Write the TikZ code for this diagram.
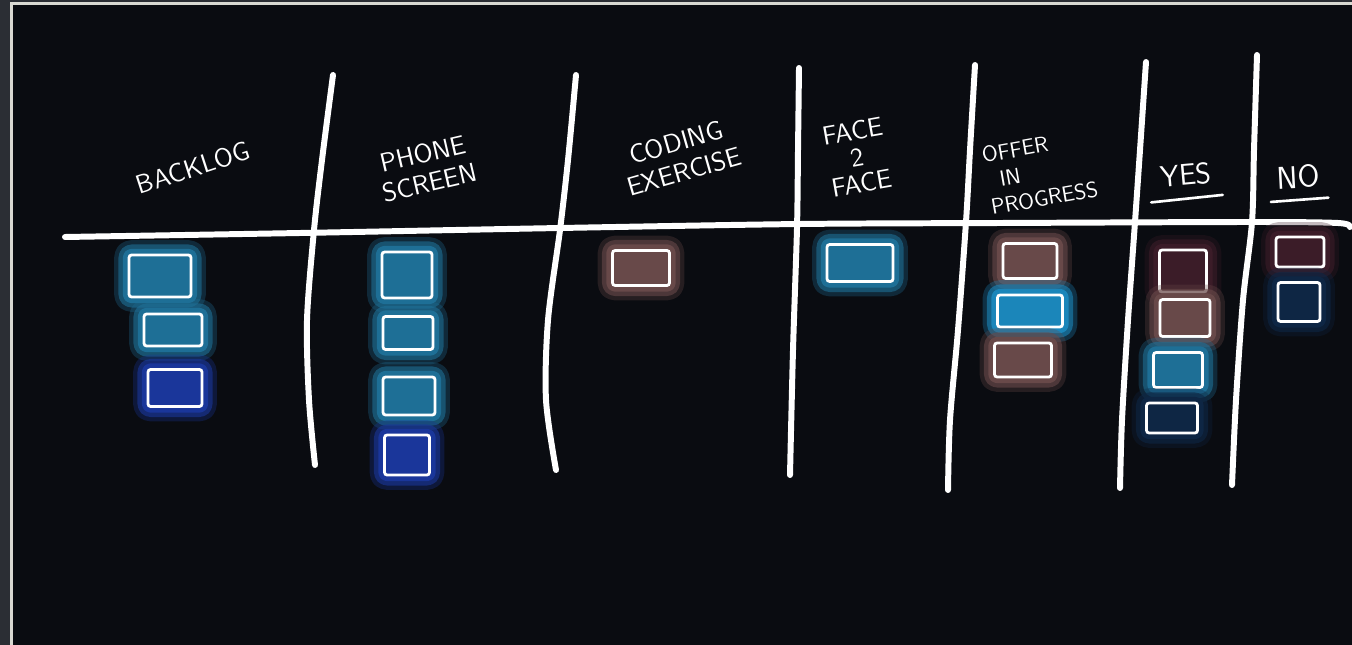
\documentclass[tikz,border=0pt]{standalone}
\usetikzlibrary{calc,positioning}
\definecolor{frame}{HTML}{2B2E34}
\definecolor{board}{HTML}{0A0C11}
\definecolor{edge}{HTML}{D9D9D2}
\definecolor{tealcard}{HTML}{1E6F96}
\definecolor{brightcard}{HTML}{1B86BA}
\definecolor{deepcard}{HTML}{1A369A}
\definecolor{rosecard}{HTML}{684949}
\definecolor{plumcard}{HTML}{3B1C28}
\definecolor{navycard}{HTML}{0E2644}
\tikzset{
   chalk/.style={draw=white, line width=3.4pt, line cap=round, line join=round},
   heading/.style={text=white, font=\sffamily\fontsize{15}{15}\selectfont, align=center, inner sep=0pt},
   card/.style={rectangle, draw=white, line width=1.6pt, rounded corners=1.5pt, inner sep=0pt,
      preaction={draw=#1, draw opacity=0.3, fill=#1, line width=17pt, line join=round},
      preaction={draw=#1, draw opacity=0.6, line width=12pt, line join=round},
      preaction={draw=#1, line width=7pt, line join=round}},
   card/.default=tealcard
}
\begin{document}
\begin{tikzpicture}[x=0.02cm, y=-0.02cm]

  \useasboundingbox (0,0) rectangle (1352,645);
  \fill[frame] (0,0) rectangle (1352,645);
  \fill[edge]  (10,2) rectangle (1352,645);
  \fill[board] (13,5) rectangle (1352,645);

  %% Board lines
  \draw[chalk] plot[smooth] coordinates {(65,237) (300,233) (560,228) (800,224) (1000,223) (1250,222) (1338,223) (1350,227)};
  \draw[chalk] plot[smooth] coordinates {(333,75) (322,160) (314,230) (307,320) (309,400) (315,465)};
  \draw[chalk] plot[smooth] coordinates {(576,75) (568,160) (560,230) (548,320) (546,400) (556,470)};
  \draw[chalk] plot[smooth] coordinates {(799,68) (798,150) (797,228) (793,350) (790,475)};
  \draw[chalk] plot[smooth] coordinates {(975,65) (970,150) (966,222) (958,330) (950,420) (948,490)};
  \draw[chalk] plot[smooth] coordinates {(1146,62) (1140,150) (1135,222) (1128,320) (1122,420) (1120,488)};
  \draw[chalk] plot[smooth] coordinates {(1257,55) (1254,150) (1252,222) (1243,300) (1236,400) (1232,485)};

  %% Column headings
  \node[heading, rotate=18] at (193,168)  (backlog) {BACKLOG};
  \node[heading, rotate=13, font=\sffamily\fontsize{15}{17}\selectfont] at (426,168) (phone) {PHONE\\SCREEN};
  \node[heading, rotate=16, font=\sffamily\fontsize{15}{17}\selectfont] at (680,157) (coding) {CODING\\EXERCISE};
  \node[heading, rotate=10, font=\sffamily\fontsize{15}{15}\selectfont] at (857,157) (face) {FACE\\2\\FACE};
  \node[heading, rotate=10, align=left, font=\sffamily\fontsize{12.5}{15}\selectfont] at (1040,172) (offer) {OFFER\\\hspace{0.6em}IN\\PROGRESS};
  \node[heading, rotate=5, font=\sffamily\fontsize{17}{17}\selectfont]  at (1186,175) (yes) {YES};
  \node[heading, rotate=3, font=\sffamily\fontsize{18}{18}\selectfont]  at (1298,177) (no)  {NO};

  \draw[chalk, line width=1.5pt] ($(yes.south west)+(-10,14)$) -- ($(yes.south east)+(10,11)$);
  \draw[chalk, line width=1.5pt] ($(no.south west)+(-6,12)$)   -- ($(no.south east)+(8,10)$);

  %% Cards
  \node[card,            minimum width=1.24cm, minimum height=0.84cm] at (160,276)  (backlog a) {};
  \node[card,            minimum width=1.16cm, minimum height=0.64cm] at (173,330)  (backlog b) {};
  \node[card=deepcard,   minimum width=1.08cm, minimum height=0.74cm] at (175,388)  (backlog c) {};

  \node[card,            minimum width=1.00cm, minimum height=0.92cm] at (407,275)  (phone a) {};
  \node[card,            minimum width=1.00cm, minimum height=0.66cm] at (408,333)  (phone b) {};
  \node[card,            minimum width=1.04cm, minimum height=0.76cm] at (409,396)  (phone c) {};
  \node[card=deepcard,   minimum width=0.90cm, minimum height=0.80cm] at (407,455)  (phone d) {};

  \node[card=rosecard,   minimum width=1.14cm, minimum height=0.70cm] at (641,268)  (coding a) {};

  \node[card,            minimum width=1.32cm, minimum height=0.74cm] at (860,263)  (face a) {};

  \node[card=rosecard,   minimum width=1.08cm, minimum height=0.70cm] at (1030,261) (offer a) {};
  \node[card=brightcard, minimum width=1.30cm, minimum height=0.64cm] at (1030,311) (offer b) {};
  \node[card=rosecard,   minimum width=1.14cm, minimum height=0.68cm] at (1023,360) (offer c) {};

  \node[card=plumcard,   minimum width=0.94cm, minimum height=0.84cm] at (1183,271) (yes a) {};
  \node[card=rosecard,   minimum width=1.00cm, minimum height=0.74cm] at (1185,318) (yes b) {};
  \node[card,            minimum width=0.98cm, minimum height=0.70cm] at (1178,370) (yes c) {};
  \node[card=navycard,   minimum width=1.02cm, minimum height=0.60cm] at (1172,418) (yes d) {};

  \node[card=plumcard,   minimum width=0.96cm, minimum height=0.60cm] at (1300,252) (no a) {};
  \node[card=navycard,   minimum width=0.84cm, minimum height=0.78cm] at (1299,302) (no b) {};

\end{tikzpicture}
\end{document}
